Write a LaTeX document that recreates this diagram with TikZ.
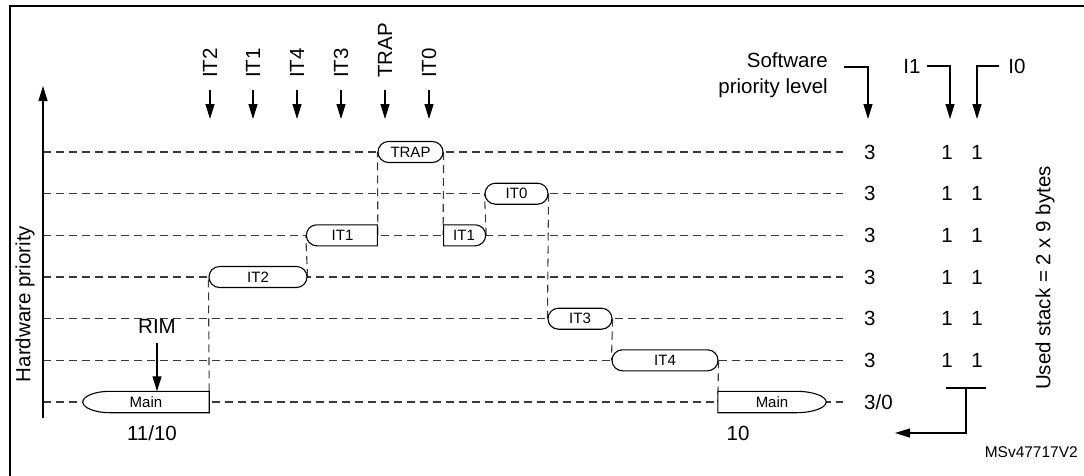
\documentclass[tikz,border=0pt]{standalone}
\usepackage{fontspec}
\setmainfont{Liberation Sans}
\usetikzlibrary{
  positioning,
  shapes.misc,
  arrows.meta,
  backgrounds,
  calc,
}
\definecolor{border}{HTML}{000000}
\definecolor{dashCol}{HTML}{3A3A3A}
\definecolor{fillMain}{HTML}{FFFFFF}
\newcommand{\lblfont}{\fontsize{20.5}{26}\selectfont}
\newcommand{\boxfont}{\fontsize{15}{18}\selectfont}
\tikzset{
  itbox/.style={
    rounded rectangle, draw=border, fill=fillMain,
    minimum height=21pt, inner sep=0pt, line width=1.1pt,
    font=\boxfont,
  },
  mainbox/.style={
    rectangle, minimum height=21pt, inner sep=0pt, font=\boxfont,
  },
  mainline/.style={draw=border, fill=fillMain, line width=1.1pt},
  level/.style={dashCol, line width=1.1pt, dash pattern=on 8pt off 5pt},
  arrow/.style={-{Triangle[length=15pt, width=9pt]}, border, line width=1.2pt},
  plain/.style={border, line width=1.2pt},
  txt/.style={font=\lblfont, inner sep=0pt},
  vlabel/.style={txt, rotate=90, anchor=west},
  num/.style={txt, anchor=west},
}

\begin{document}
\begin{tikzpicture}[x=1pt, y=-1pt]
  \useasboundingbox (0,0) rectangle (1084,475);

  % frame
  \draw[border, line width=2.5pt] (10,485) |- (1090,6);

  % hardware priority axis
  \coordinate (axbot) at (43,418);
  \coordinate (axtop) at (43,86);
  \draw[arrow] (axbot) -- (axtop);
  \node[txt, rotate=90] (hwprio) at (25,304) {Hardware priority};

  % interrupt requests
  \foreach \x/\n in {210/IT2, 253/IT1, 297/IT4, 341/IT3, 385/TRAP, 429/IT0} {
    \node[vlabel] (req\n) at (\x,78) {\n};
    \draw[arrow, shorten <=12pt] (req\n.west) -- ++(0,41);
  }

  % running routines
  \node[mainbox, minimum width=126pt] (main1) at (146,402) {Main};
  \node[itbox, minimum width=98pt] (it2) at (258,277) {IT2};
  \node[itbox, minimum width=71pt, rounded rectangle east arc=none] (it1a) at (342.5,235.3) {IT1};
  \node[itbox, minimum width=65pt] (trap) at (410.5,152) {TRAP};
  \node[itbox, minimum width=42pt, rounded rectangle west arc=none] (it1b) at (464,235.3) {IT1};
  \node[itbox, minimum width=63pt] (it0) at (516.5,193.7) {IT0};
  \node[itbox, minimum width=64pt] (it3) at (580,318.7) {IT3};
  \node[itbox, minimum width=106pt] (it4) at (665,360.3) {IT4};
  \node[mainbox, minimum width=108pt] (main2) at (772,402) {Main};

  \node[txt] (rim) at (157,326) {RIM};
  \draw[arrow, shorten <=10pt] (rim.south) -- (rim.south |- main1.north);

  \node[txt] (cnt1) at (152,433) {11/10};
  \node[txt] (cnt2) at (738,433) {10};

  % priority columns
  \foreach \y [count=\i] in {152,193.7,235.3,277,318.7,360.3} {
    \node[num] (sw\i) at (864,\y) {3};
    \node[txt] (ia\i) at (947,\y) {1};
    \node[txt] (ib\i) at (977,\y) {1};
  }
  \node[num] (sw7) at (864,402) {3/0};

  \node[txt, align=right, anchor=north east] (swlvl) at (828,52.5) {Software\\priority level};
  \node[txt] (i1) at (912,66) {I1};
  \node[txt] (i0) at (1017,66) {I0};
  \coordinate (swtip) at (868,119);
  \coordinate (i1tip) at (950,119);
  \coordinate (i0tip) at (977,119);
  \draw[arrow] ([xshift=16pt, yshift=-14.5pt]swlvl.north east) -| (swtip);
  \draw[arrow, shorten <=6pt] (i1.east) -| (i1tip);
  \draw[arrow, shorten <=9pt] (i0.west) -| (i0tip);

  % stack
  \coordinate (stl) at (946,388);
  \coordinate (str) at (986,388);
  \coordinate (stm) at (966,388);
  \coordinate (sttip) at (895,433);
  \draw[plain] (stl) -- (str);
  \draw[arrow] (stm) |- (sttip);
  \node[txt, rotate=90] (stack) at (1045,278) {Used stack = 2 x 9 bytes};

  \node[txt, anchor=east, font=\fontsize{15.5}{18}\selectfont] (ref) at (1078,452) {MSv47717V2};

  \begin{scope}[on background layer]
    \foreach \y in {152,193.7,235.3,277,318.7,360.3,402}
      \draw[level] (43,\y) -- (843,\y);
    \draw[level] (main1.north east) -- (it2.west);
    \draw[level] (it2.east) -- (it1a.west);
    \draw[level] (it1a.east) -- (trap.west);
    \draw[level] (trap.east) -- (it1b.west);
    \draw[level] (it1b.east) -- (it0.west);
    \draw[level] (it0.east) -- (it3.west);
    \draw[level] (it3.east) -- (it4.west);
    \draw[level] (it4.east) -- (main2.west);
    \draw[mainline] (main1.north east) -- ([xshift=27pt]main1.north west)
      .. controls +(-15pt,0) and +(0,5.8pt) .. (main1.west)
      .. controls +(0,-5.8pt) and +(-15pt,0) .. ([xshift=27pt]main1.south west)
      -- (main1.south east) -- cycle;
    \draw[mainline] (main2.north west) -- ([xshift=-30pt]main2.north east)
      .. controls +(16.5pt,0) and +(0,5.8pt) .. (main2.east)
      .. controls +(0,-5.8pt) and +(16.5pt,0) .. ([xshift=-30pt]main2.south east)
      -- (main2.south west) -- cycle;
  \end{scope}
\end{tikzpicture}
\end{document}
